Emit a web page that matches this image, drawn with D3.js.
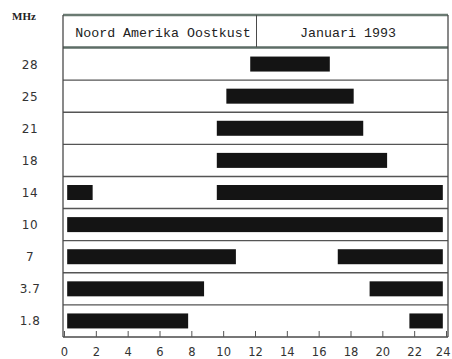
<!DOCTYPE html>
<html><head><meta charset="utf-8">
<script src="https://cdn.jsdelivr.net/npm/d3@7"></script>
<style>body{margin:0;background:#fff}svg{display:block}</style>
</head><body>
<script>
const bands = ["28","25","21","18","14","10","7","3.7","1.8"];
const openBand  = ["28","25","21","18","14","14","10","7","7","3.7","3.7","1.8","1.8"];
const openStart = [11.7,10.2,9.6,9.6,0.2,9.6,0.2,0.2,17.2,0.2,19.2,0.2,21.7];
const openEnd   = [16.7,18.2,18.8,20.3,1.8,23.8,23.8,10.8,23.8,8.8,23.8,7.8,23.8];
const hourTicks = [0,2,4,6,8,10,12,14,16,18,20,22,24];
const headerLeft = "Noord Amerika Oostkust";
const headerRight = "Januari 1993";
const unitLabel = "MHz";

const W=452,H=359;
const svg=d3.select("body").append("svg").attr("width",W).attr("height",H);
const x=d3.scaleLinear().domain([0,24]).range([64,446]);
const y=d3.scaleBand().domain(bands).range([48,337]);
const fL=63,fR=448,fT=15,fB=337;
const frameCol="#4a4a4a";

bands.forEach((b,i)=>{ if(i>0) svg.append("line").attr("x1",fL).attr("x2",fR).attr("y1",y(b)).attr("y2",y(b)).attr("stroke","#555").attr("stroke-width",1.4); });
svg.append("line").attr("x1",fL).attr("x2",fR).attr("y1",fT).attr("y2",fT).attr("stroke","#6a7a72").attr("stroke-width",2.5);
svg.append("line").attr("x1",fL).attr("x2",fR).attr("y1",47.5).attr("y2",47.5).attr("stroke","#5d6d66").attr("stroke-width",2.5);
svg.append("line").attr("x1",256.5).attr("x2",256.5).attr("y1",fT).attr("y2",47).attr("stroke",frameCol).attr("stroke-width",1);
svg.append("line").attr("x1",fL).attr("x2",fL).attr("y1",fT).attr("y2",fB).attr("stroke",frameCol).attr("stroke-width",1.3);
svg.append("line").attr("x1",fR).attr("x2",fR).attr("y1",fT).attr("y2",fB).attr("stroke",frameCol).attr("stroke-width",1.3);
svg.append("line").attr("x1",fL).attr("x2",fR).attr("y1",fB).attr("y2",fB).attr("stroke",frameCol).attr("stroke-width",1.3);

const bh=15;
svg.selectAll("rect.bar").data(openBand.map((b,i)=>({b,s:openStart[i],e:openEnd[i]}))).enter()
  .append("rect").attr("class","bar")
  .attr("x",d=>x(d.s)).attr("width",d=>x(d.e)-x(d.s))
  .attr("y",d=>y(d.b)+y.bandwidth()/2-bh/2).attr("height",bh)
  .attr("fill","#141414");

svg.append("text").attr("x",163).attr("y",37).attr("text-anchor","middle")
  .attr("font-family","Courier New, Liberation Mono, monospace").attr("font-size",13.3).attr("fill","#222").text(headerLeft);
svg.append("text").attr("x",348).attr("y",37).attr("text-anchor","middle")
  .attr("font-family","Courier New, Liberation Mono, monospace").attr("font-size",13.3).attr("fill","#222").text(headerRight);
svg.append("text").attr("x",24).attr("y",20).attr("text-anchor","middle")
  .attr("font-family","Liberation Serif").attr("font-weight","bold").attr("font-size",11).attr("fill","#222").text(unitLabel);

svg.selectAll("text.yl").data(bands).enter().append("text").attr("class","yl")
  .attr("x",30).attr("y",d=>y(d)+y.bandwidth()/2+4.5).attr("text-anchor","middle")
  .attr("font-family","DejaVu Sans").attr("font-size",12).attr("letter-spacing",0.5).attr("fill","#333").text(d=>d);

const ax=svg.append("g").attr("transform",`translate(0,${fB})`)
  .call(d3.axisBottom(x).tickValues(hourTicks).tickSizeInner(-6).tickSizeOuter(0).tickPadding(11));
ax.select(".domain").remove();
ax.selectAll(".tick line").attr("stroke","#555");
ax.selectAll(".tick text").attr("font-family","DejaVu Sans").attr("font-size",11.5).attr("fill","#333");
ax.selectAll(".tick").filter(d=>d===24).select("text").attr("text-anchor","end").attr("dx","4px");
</script>
</body></html>
